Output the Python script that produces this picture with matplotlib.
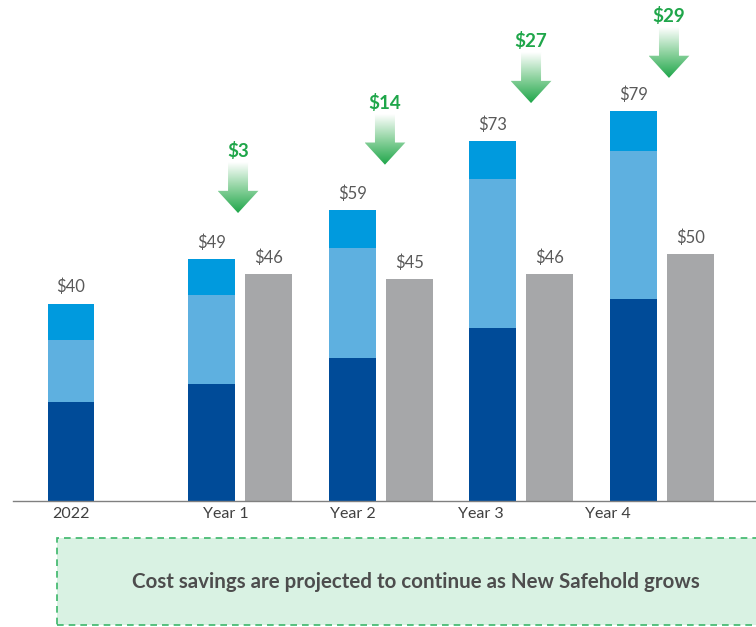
import numpy as np
import matplotlib.pyplot as plt
from matplotlib.patches import Rectangle, Polygon
from matplotlib.colors import LinearSegmentedColormap

plt.rcParams['font.family'] = ['Lato', 'DejaVu Sans']

# data
periods = ['2022', 'Year 1', 'Year 2', 'Year 3', 'Year 4']
seg_dark = [20.0, 23.8, 29.0, 35.0, 41.0]
seg_mid = [12.7, 17.9, 22.4, 30.3, 30.0]
seg_light = [7.3, 7.3, 7.6, 7.7, 8.0]
totals = [40, 49, 59, 73, 79]
grey_vals = [46, 45, 46, 50]          # Year 1..4 comparison bars
savings = [3, 14, 27, 29]              # Year 1..4

# layout
C_DARK = '#004b98'
C_MID = '#5eb0e0'
C_LIGHT = '#009ade'
C_GREY = '#a6a7a9'
C_GREEN = '#1fa64a'
W = 0.334
GREY_OFF = 0.405
tick_pos = [0.0, 1.10, 2.006, 2.916, 3.82]
arrow_x = [1.188, 2.233, 3.272, 4.253]
arrow_gap = [9.4, 9.2, 7.7, 6.8]

fig = plt.figure(figsize=(7.56, 6.27), dpi=100)
ax = fig.add_axes([13 / 756, 126 / 627, 743 / 756, 501 / 627])

x = np.arange(len(periods))
ax.bar(x, seg_dark, W, color=C_DARK)
ax.bar(x, seg_mid, W, bottom=seg_dark, color=C_MID)
ax.bar(x, seg_light, W, bottom=np.add(seg_dark, seg_mid), color=C_LIGHT)
xg = x[1:] + GREY_OFF
ax.bar(xg, grey_vals, W, color=C_GREY)

for xi, t in zip(x, totals):
    ax.annotate(f'${t}', (xi, t), xytext=(0, 6), textcoords='offset points',
                ha='center', va='bottom', fontsize=12, color='#595959')
for xi, t in zip(xg, grey_vals):
    ax.annotate(f'${t}', (xi, t), xytext=(0, 6), textcoords='offset points',
                ha='center', va='bottom', fontsize=12, color='#595959')

# gradient arrows
cmap = LinearSegmentedColormap.from_list('g', ['#ffffff', '#8fd3a0', C_GREEN])
grad = np.linspace(0, 1, 200).reshape(-1, 1)
shaft_hw, head_hw, head_h, length = 0.071, 0.145, 4.5, 10.3
for ax_x, top, gap, s in zip(arrow_x, totals[1:], arrow_gap, savings):
    tip = top + gap
    y_top = tip + length
    pts = [(ax_x - shaft_hw, y_top), (ax_x + shaft_hw, y_top),
           (ax_x + shaft_hw, tip + head_h), (ax_x + head_hw, tip + head_h),
           (ax_x, tip), (ax_x - head_hw, tip + head_h),
           (ax_x - shaft_hw, tip + head_h)]
    poly = Polygon(pts, closed=True, facecolor='none', edgecolor='none')
    ax.add_patch(poly)
    im = ax.imshow(grad, cmap=cmap, aspect='auto',
                   extent=[ax_x - head_hw, ax_x + head_hw, tip, y_top])
    im.set_clip_path(poly)
    ax.text(ax_x, tip + 12.6, f'${s}', ha='center', va='center',
            fontsize=13.5, fontweight='bold', color=C_GREEN)

ax.set_xlim(-0.4125, 4.872)
ax.set_ylim(0, 101.6)
for side in ['top', 'right', 'left']:
    ax.spines[side].set_visible(False)
ax.spines['bottom'].set_color('#808080')
ax.spines['bottom'].set_linewidth(1.0)
ax.set_yticks([])
ax.set_xticks(tick_pos)
ax.set_xticklabels(periods, fontsize=11.5, color='#404040')
ax.tick_params(axis='x', length=0, pad=4)

# message box
box = Rectangle((57 / 756, 2 / 627), 710 / 756, 87 / 627, transform=fig.transFigure,
                facecolor='#d9f2e3', edgecolor='#3cb66a', linewidth=1.2,
                linestyle=(0, (4, 3)), clip_on=False)
fig.add_artist(box)
fig.text(416 / 756, 1 - 582 / 627, 'Cost savings are projected to continue as New Safehold grows',
         ha='center', va='center', fontsize=14.8, fontweight='bold', color='#4d4d4d')

fig.savefig('out.png', dpi=100)
